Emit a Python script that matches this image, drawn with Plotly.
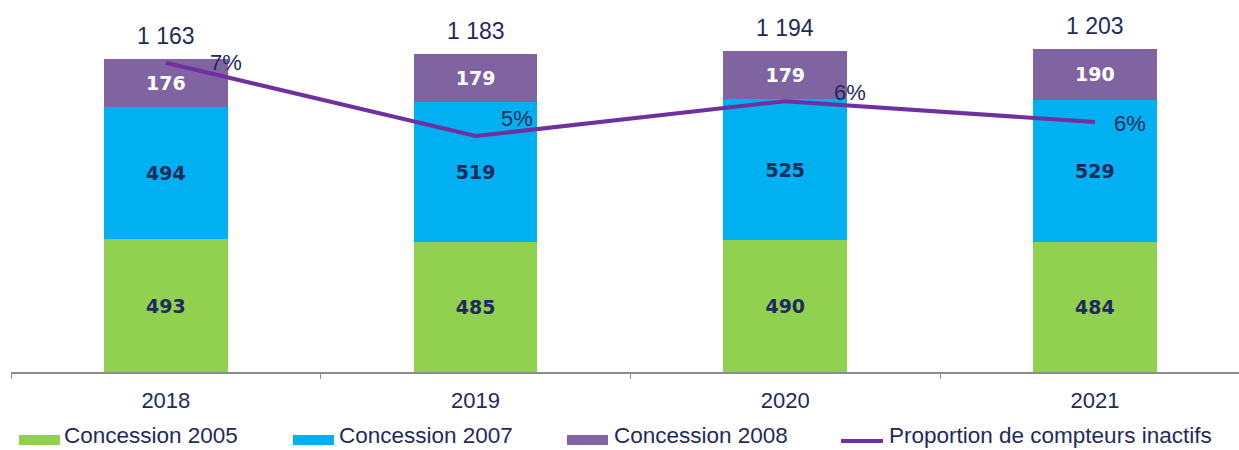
import plotly.graph_objects as go

# --- data -------------------------------------------------------------
years = ["2018", "2019", "2020", "2021"]
concession_2005 = [493, 485, 490, 484]
concession_2007 = [494, 519, 525, 529]
concession_2008 = [176, 179, 179, 190]
totals = [1163, 1183, 1194, 1203]
inactive_share = [0.074, 0.053, 0.063, 0.057]

series_names = ["Concession 2005", "Concession 2007", "Concession 2008",
                "Proportion de compteurs inactifs"]

# --- style ------------------------------------------------------------
GREEN, BLUE, PURPLE, LINE = "#92D050", "#00B0F0", "#8064A2", "#7030A0"
NAVY = "#1F2A5C"
W, H = 1239, 450
M_L, M_R, M_T, M_B = 11, 0, 20, 78
PW, PH = W - M_L - M_R, H - M_T - M_B

# offsets (px) of the percentage labels from their line vertex
pct_shift = [(42, 0), (23, 18), (47, 9), (17, -1)]

fig = go.Figure()

seg_font = dict(family="DejaVu Sans", size=19, weight="bold")
for name, vals, col, txtcol in [
    (series_names[0], concession_2005, GREEN, NAVY),
    (series_names[1], concession_2007, BLUE, NAVY),
    (series_names[2], concession_2008, PURPLE, "white"),
]:
    fig.add_trace(go.Bar(
        x=years, y=vals, name=name, marker=dict(color=col, line=dict(width=0)),
        text=vals, textposition="inside", insidetextanchor="middle",
        textangle=0, constraintext="none",
        textfont=dict(color=txtcol, **seg_font),
        showlegend=False,
    ))

fig.add_trace(go.Scatter(
    x=years, y=inactive_share, name=series_names[3], yaxis="y2",
    mode="lines", line=dict(color=LINE, width=4), showlegend=False,
))

annotations = []
# totals above the stacks (x given as category index)
for i, tot in enumerate(totals):
    annotations.append(dict(
        x=i, y=tot, xref="x", yref="y", text=f"{tot:,}".replace(",", " "),
        showarrow=False, yanchor="bottom", yshift=8,
        font=dict(family="Liberation Sans", size=23, color=NAVY),
    ))
# percentage labels next to the line vertices
for i, (p, (dx, dy)) in enumerate(zip(inactive_share, pct_shift)):
    annotations.append(dict(
        x=i, y=p, xref="x", yref="y2", text=f"{round(p * 100)}%",
        showarrow=False, xanchor="left", yanchor="middle",
        xshift=dx, yshift=dy,
        font=dict(family="Liberation Sans", size=22, color=NAVY),
    ))


def px_x(px):
    return (px - M_L) / PW


def px_y(py):
    return (H - M_B - py) / PH


# legend drawn along the bottom edge
shapes = []
legend_items = [
    (series_names[0], GREEN, "box", 19, 60, 62),
    (series_names[1], BLUE, "box", 293, 334, 337),
    (series_names[2], PURPLE, "box", 567, 608, 612),
    (series_names[3], LINE, "line", 841, 883, 887),
]
LEG_Y = 440
for name, col, kind, x0, x1, tx in legend_items:
    if kind == "box":
        shapes.append(dict(type="rect", xref="paper", yref="paper",
                           x0=px_x(x0), x1=px_x(x1),
                           y0=px_y(LEG_Y + 5), y1=px_y(LEG_Y - 5),
                           fillcolor=col, line=dict(width=0)))
    else:
        shapes.append(dict(type="line", xref="paper", yref="paper",
                           x0=px_x(x0), x1=px_x(x1),
                           y0=px_y(LEG_Y + 1), y1=px_y(LEG_Y + 1),
                           line=dict(color=col, width=4)))
    annotations.append(dict(
        x=px_x(tx), y=px_y(449.5), xref="paper", yref="paper",
        text=name, showarrow=False, xanchor="left", yanchor="bottom",
        font=dict(family="Liberation Sans", size=22.5, color=NAVY),
    ))

fig.update_layout(
    width=W, height=H,
    margin=dict(l=M_L, r=M_R, t=M_T, b=M_B, pad=0),
    barmode="stack", bargap=0.6,
    plot_bgcolor="white", paper_bgcolor="white",
    showlegend=False,
    xaxis=dict(
        type="category", range=[-0.5, -0.5 + PW / 309.7],
        showline=True, linecolor="#8C8C8C", linewidth=1.5,
        ticks="outside", tickson="boundaries", ticklen=5,
        tickcolor="#8C8C8C", tickwidth=1, showgrid=False,
        tickfont=dict(family="Liberation Sans", size=22, color=NAVY),
        ticklabelstandoff=8,
    ),
    yaxis=dict(range=[0, PH / 0.2688], visible=False, showgrid=False),
    yaxis2=dict(range=[-0.01461, 0.08625], overlaying="y", visible=False,
                showgrid=False),
    annotations=annotations,
    shapes=shapes,
)

fig.write_html("out.html")
